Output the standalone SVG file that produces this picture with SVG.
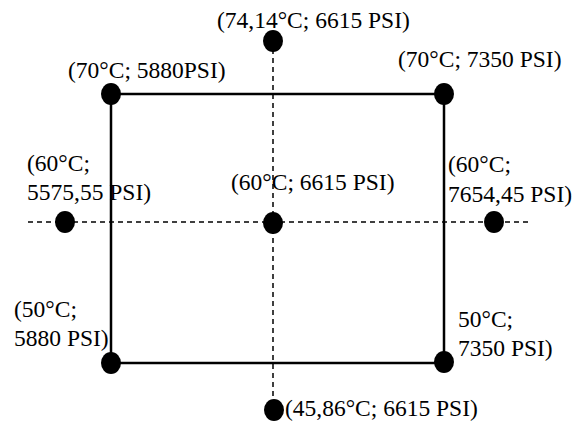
<svg xmlns="http://www.w3.org/2000/svg" width="583" height="421" viewBox="0 0 583 421">
  <style>
    .lbl { font-family: "Liberation Serif", "Times New Roman", serif; font-size: 23.5px; fill: #000; }
    .frame { fill: none; stroke: #000; stroke-width: 2.5; }
    .axis { fill: none; stroke: #000; stroke-width: 1.5; stroke-dasharray: 5 4; }
    .pt { fill: #000; }
  </style>
  <rect width="583" height="421" fill="#fff"/>

  <!-- design space: factorial square and dashed axes -->
  <g id="connectors">
    <line class="axis" x1="28" y1="222" x2="530" y2="222"/>
    <line class="axis" x1="273" y1="40" x2="273" y2="410"/>
    <rect class="frame" x="111" y="94" width="333" height="269"/>
  </g>

  <g id="p-top">
    <ellipse class="pt" cx="273" cy="41" rx="10" ry="11"/>
    <text class="lbl" x="217" y="28">(74,14°C; 6615 PSI)</text>
  </g>
  <g id="p-top-left">
    <ellipse class="pt" cx="111" cy="94" rx="10" ry="11"/>
    <text class="lbl" x="68" y="78">(70°C; 5880PSI)</text>
  </g>
  <g id="p-top-right">
    <ellipse class="pt" cx="444" cy="94" rx="10" ry="11"/>
    <text class="lbl" x="398" y="67">(70°C; 7350 PSI)</text>
  </g>
  <g id="p-left">
    <ellipse class="pt" cx="65" cy="222" rx="10" ry="11"/>
    <text class="lbl" x="27" y="171">(60°C;</text>
    <text class="lbl" x="27" y="200">5575,55 PSI)</text>
  </g>
  <g id="p-center">
    <ellipse class="pt" cx="273" cy="223" rx="10" ry="11"/>
    <text class="lbl" x="231" y="190">(60°C; 6615 PSI)</text>
  </g>
  <g id="p-right">
    <ellipse class="pt" cx="494" cy="222" rx="10" ry="11"/>
    <text class="lbl" x="448" y="172">(60°C;</text>
    <text class="lbl" x="448" y="202">7654,45 PSI)</text>
  </g>
  <g id="p-bottom-left">
    <ellipse class="pt" cx="111" cy="363" rx="10" ry="11"/>
    <text class="lbl" x="14" y="317">(50°C;</text>
    <text class="lbl" x="14" y="346">5880 PSI)</text>
  </g>
  <g id="p-bottom-right">
    <ellipse class="pt" cx="444" cy="362" rx="10" ry="11"/>
    <text class="lbl" x="458" y="327">50°C;</text>
    <text class="lbl" x="458" y="356">7350 PSI)</text>
  </g>
  <g id="p-bottom">
    <ellipse class="pt" cx="274" cy="410" rx="10" ry="11"/>
    <text class="lbl" x="285" y="416">(45,86°C; 6615 PSI)</text>
  </g>
</svg>
